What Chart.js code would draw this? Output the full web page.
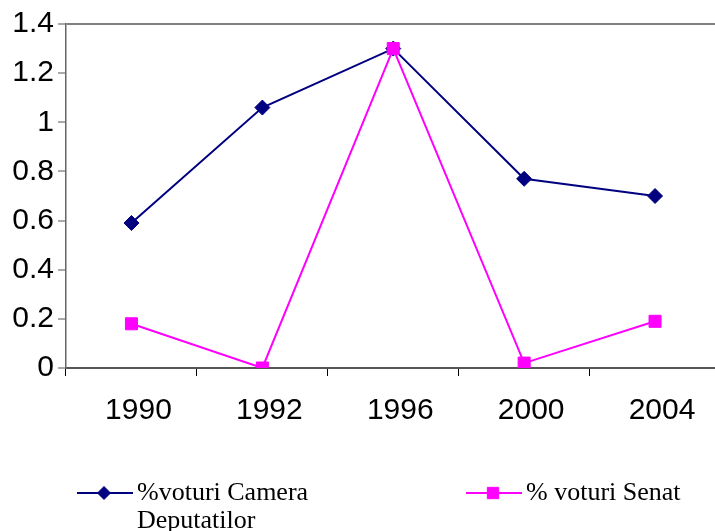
<!DOCTYPE html>
<html>
<head>
<meta charset="utf-8">
<script src="https://cdn.jsdelivr.net/npm/chart.js@4"></script>
<style>
  html, body { margin: 0; padding: 0; overflow: hidden; background: #fff; }
  #wrap { width: 730px; height: 531px; }
</style>
</head>
<body>
<div id="wrap"><canvas id="votChart"></canvas></div>
<script>
// Date
var ani = ['1990', '1992', '1996', '2000', '2004'];
var camera = [0.59, 1.06, 1.30, 0.77, 0.70];
var senat = [0.18, 0.00, 1.30, 0.02, 0.19];
var yTickLabels = ['0', '0.2', '0.4', '0.6', '0.8', '1', '1.2', '1.4'];
var legendLabels = [['%voturi Camera', 'Deputatilor'], ['% voturi Senat']];

// Legenda desenata manual (doua randuri pentru primul element)
var legendPlugin = {
  id: 'legendaJos',
  afterDraw: function(chart) {
    var ctx = chart.ctx;
    var pos = [77, 466];
    var rad = [6.5, 8];
    ctx.save();
    chart.data.datasets.forEach(function(ds, i) {
      var x = pos[i], y = 493;
      ctx.strokeStyle = ds.borderColor;
      ctx.fillStyle = ds.backgroundColor;
      ctx.lineWidth = 2;
      ctx.beginPath();
      ctx.moveTo(x, y);
      ctx.lineTo(x + 56, y);
      ctx.stroke();
      ctx.lineWidth = 1;
      Chart.helpers.drawPoint(ctx, {
        pointStyle: ds.pointStyle,
        radius: rad[i],
        rotation: 0,
        borderWidth: 1
      }, x + 27, y);
      ctx.fillStyle = '#000';
      ctx.font = '26px "Liberation Serif", "Times New Roman", serif';
      ctx.textBaseline = 'middle';
      ctx.textAlign = 'left';
      legendLabels[i].forEach(function(t, k) {
        ctx.fillText(t, x + 60, y + k * 28);
      });
    });
    ctx.restore();
  }
};

var ctx = document.getElementById('votChart').getContext('2d');

var chart = new Chart(ctx, {
  type: 'line',
  data: {
    labels: ani,
    datasets: [{
      label: '%voturi Camera Deputatilor',
      data: camera,
      borderColor: '#000080',
      backgroundColor: '#000080',
      borderWidth: 2,
      pointStyle: 'rectRot',
      pointRadius: 7.5,
      pointBorderWidth: 1,
      tension: 0,
      order: 1
    }, {
      label: '% voturi Senat',
      data: senat,
      borderColor: '#FF00FF',
      backgroundColor: '#FF00FF',
      borderWidth: 2,
      pointStyle: 'rect',
      pointRadius: 8.5,
      pointBorderWidth: 1,
      tension: 0,
      order: 0
    }]
  },
  options: {
    responsive: true,
    maintainAspectRatio: false,
    animation: false,
    layout: { padding: { top: 24, right: 9, left: 0, bottom: 0 } },
    plugins: {
      legend: { display: false },
      tooltip: { enabled: false }
    },
    scales: {
      x: {
        offset: true,
        border: { color: '#555', width: 2 },
        grid: {
          offset: true,
          drawOnChartArea: false,
          tickLength: 8,
          tickColor: '#000'
        },
        ticks: {
          color: '#000',
          padding: 17,
          labelOffset: 7,
          maxRotation: 0,
          font: { family: '"Liberation Sans", Arial, sans-serif', size: 30 }
        },
        afterFit: function(s) { s.height = 163; }
      },
      y: {
        min: 0,
        max: 1.4,
        border: { color: '#666', width: 1.5 },
        grid: {
          color: function(c) { return c.tick && c.tick.value === 1.4 ? '#808080' : 'rgba(0,0,0,0)'; },
          lineWidth: 2,
          tickLength: 8,
          tickColor: '#555',
          tickWidth: 1
        },
        ticks: {
          stepSize: 0.2,
          color: '#000',
          padding: 4,
          font: { family: '"Liberation Sans", Arial, sans-serif', size: 30 },
          callback: function(v, i) { return yTickLabels[i]; }
        },
        afterFit: function(s) { s.width = 66; }
      }
    }
  },
  plugins: [legendPlugin]
});
</script>
</body>
</html>
